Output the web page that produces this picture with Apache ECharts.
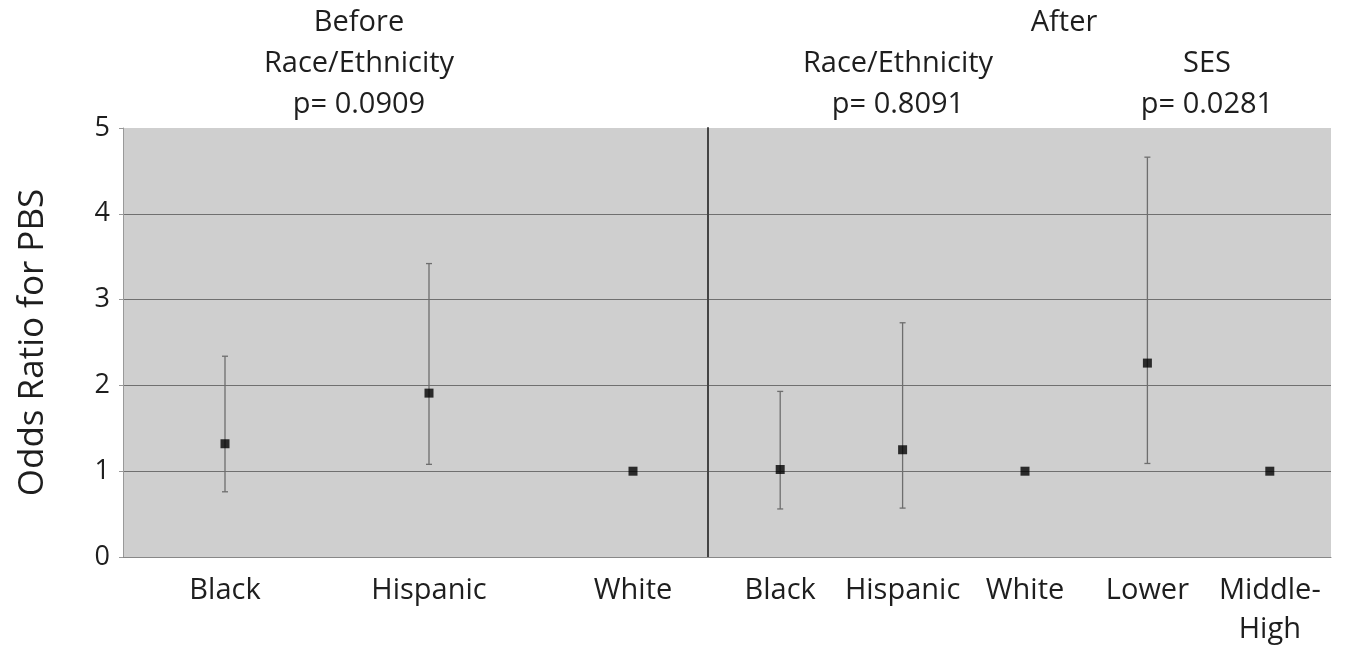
<!DOCTYPE html>
<html>
<head>
<meta charset="utf-8">
<script src="https://cdn.jsdelivr.net/npm/echarts@6/dist/echarts.min.js"></script>
<style>
  html, body { margin: 0; padding: 0; background: #fff; }
  #chart { width: 1348px; height: 650px; }
</style>
</head>
<body>
<div id="chart"></div>
<script>
// before adjustment (race/ethnicity)
const beforeCats = ['Black', 'Hispanic', 'White']
const beforeOR = [1.32, 1.91, 1.0]
const beforeLow = [0.76, 1.08, null]
const beforeHigh = [2.34, 3.42, null]
// after adjustment (race/ethnicity + SES)
const afterCats = ['Black', 'Hispanic', 'White', 'Lower', 'Middle-\nHigh']
const afterOR = [1.02, 1.25, 1.0, 2.26, 1.0]
const afterLow = [0.56, 0.57, null, 1.09, null]
const afterHigh = [1.93, 2.73, null, 4.66, null]
const yTicks = [0, 1, 2, 3, 4, 5]

const font = 'Open Sans'
const txt = '#1e1e1e'
const gridLine = { color: '#707070', width: 1 }

function errData (low, high) {
  let out = []
  for (let i = 0; i < low.length; i++) {
    if (low[i] != null) out.push([i, low[i], high[i]])
  }
  return out
}

function errorBar (params, api) {
  let top = api.coord([api.value(0), api.value(2)])
  let bot = api.coord([api.value(0), api.value(1)])
  let cap = 3
  let style = { stroke: '#6e6e6e', lineWidth: 1.3 }
  return {
    type: 'group',
    children: [
      { type: 'line', shape: { x1: top[0], y1: top[1], x2: bot[0], y2: bot[1] }, style: style },
      { type: 'line', shape: { x1: top[0] - cap, y1: top[1], x2: top[0] + cap, y2: top[1] }, style: style },
      { type: 'line', shape: { x1: bot[0] - cap, y1: bot[1], x2: bot[0] + cap, y2: bot[1] }, style: style }
    ]
  }
}

function xAxisFor (cats, idx) {
  return {
    type: 'category',
    gridIndex: idx,
    data: cats,
    axisLine: { lineStyle: { color: '#888', width: 1 } },
    axisTick: { length: 4, lineStyle: { color: '#999' } },
    axisLabel: { color: txt, fontFamily: font, fontSize: 29, margin: 14, lineHeight: 39, interval: 0 }
  }
}

const titleStyle = { color: txt, fontFamily: font, fontSize: 29, fontWeight: 'normal', lineHeight: 41 }

const option = {
  backgroundColor: '#fff',
  animation: false,
  title: [
    { text: 'Before\nRace/Ethnicity\np= 0.0909', left: 359, top: 2, textAlign: 'center', padding: 0, textStyle: titleStyle },
    { text: 'After', left: 1064, top: 2, textAlign: 'center', padding: 0, textStyle: titleStyle },
    { text: 'Race/Ethnicity\np= 0.8091', left: 898, top: 43, textAlign: 'center', padding: 0, textStyle: titleStyle },
    { text: 'SES\np= 0.0281', left: 1207, top: 43, textAlign: 'center', padding: 0, textStyle: titleStyle }
  ],
  grid: [
    { left: 123, top: 128, width: 612, height: 429, show: true, backgroundColor: '#cfcfcf', borderWidth: 0, outerBoundsMode: 'none', containLabel: false },
    { left: 719, top: 128, width: 612, height: 429, show: true, backgroundColor: '#cfcfcf', borderWidth: 0, outerBoundsMode: 'none', containLabel: false }
  ],
  xAxis: [xAxisFor(beforeCats, 0), xAxisFor(afterCats, 1)],
  yAxis: [
    {
      type: 'value',
      gridIndex: 0,
      min: 0,
      max: 5,
      interval: 1,
      name: 'Odds Ratio for PBS',
      nameLocation: 'middle',
      nameGap: 72,
      nameTextStyle: { color: txt, fontFamily: font, fontSize: 35 },
      axisLine: { show: true, lineStyle: { color: '#999' } },
      axisTick: { show: true, length: 4, lineStyle: { color: '#999' } },
      axisLabel: { color: txt, fontFamily: font, fontSize: 27, margin: 13,
        formatter: function (v) { return yTicks.indexOf(v) >= 0 ? String(v) : '' } },
      splitLine: { show: true, showMaxLine: false, lineStyle: gridLine }
    },
    {
      type: 'value',
      gridIndex: 1,
      min: 0,
      max: 5,
      interval: 1,
      offset: 11,
      axisLine: { show: true, lineStyle: { color: '#444', width: 2 } },
      axisTick: { show: false },
      axisLabel: { show: false },
      splitLine: { show: true, showMaxLine: false, lineStyle: gridLine }
    }
  ],
  series: [
    { type: 'custom', xAxisIndex: 0, yAxisIndex: 0, renderItem: errorBar, data: errData(beforeLow, beforeHigh), encode: { x: 0, y: [1, 2] }, z: 3 },
    { type: 'custom', xAxisIndex: 1, yAxisIndex: 1, renderItem: errorBar, data: errData(afterLow, afterHigh), encode: { x: 0, y: [1, 2] }, z: 3 },
    { type: 'scatter', xAxisIndex: 0, yAxisIndex: 0, symbol: 'rect', symbolSize: 9, itemStyle: { color: '#000' }, data: beforeOR, z: 5 },
    { type: 'scatter', xAxisIndex: 1, yAxisIndex: 1, symbol: 'rect', symbolSize: 9, itemStyle: { color: '#000' }, data: afterOR, z: 5 }
  ]
}

const chart = echarts.init(document.getElementById('chart'))
chart.setOption(option)
</script>
</body>
</html>
